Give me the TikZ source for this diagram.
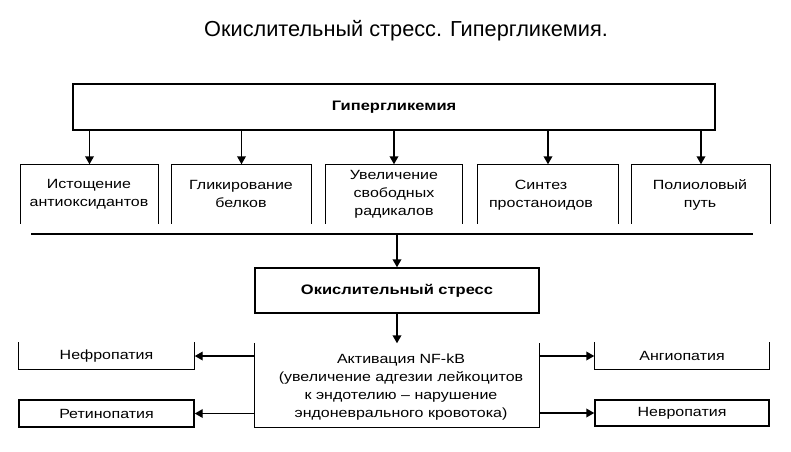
\documentclass[tikz,border=0pt]{standalone}
\usepackage{fontspec}
\setmainfont{Liberation Sans}
\newfontfamily\wf[FakeStretch=1.2]{Liberation Sans}
\usetikzlibrary{arrows.meta}
\begin{document}
\begin{tikzpicture}[x=0.75pt,y=-0.75pt,
  line width=1.1pt,
  arr/.style={-{Triangle[length=6pt,width=6.5pt]}},
  txt/.style={font=\wf\fontsize{10}{13.5}\selectfont, align=center, inner sep=0pt},
  btxt/.style={font=\wf\bfseries\fontsize{10.3}{13.5}\selectfont, align=center, inner sep=0pt},
  area/.style 2 args={minimum width=#1*0.75pt, minimum height=#2*0.75pt, inner sep=0pt}
]
\useasboundingbox (0,0) rectangle (791,451);
\node[font=\fontsize{16.3}{19}\selectfont, inner sep=0pt] (title) at (406,31) {Окислительный стресс. Гипергликемия.};

% top box
\node[draw, area={642}{46}, btxt] (top) at (394,107) {Гипергликемия};

% second row (open at bottom)
\node[area={137}{58}] (b1) at (89.5,194) {};
\node[area={139}{58}] (b2) at (241.5,194) {};
\node[area={136}{58}] (b3) at (394,194) {};
\node[area={140}{58}] (b4) at (548,194) {};
\node[area={138}{58}] (b5) at (701,194) {};
\foreach \b in {b1,b2,b3,b4,b5}{
  \draw (\b.south west) |- (\b.north east) -- (\b.south east);
  \draw[arr] (\b.north |- top.south) -- (\b.north);
}
\node[txt] (t1) at (89,194) {Истощение\\антиоксидантов};
\node[txt] (t2) at (241,194) {Гликирование\\белков};
\node[txt] (t3) at (394,194) {Увеличение\\свободных\\радикалов};
\node[txt] (t4) at (541,195) {Синтез\\простаноидов};
\node[txt] (t5) at (700,195) {Полиоловый\\путь};

% horizontal line
\coordinate (hl1) at (31,234);
\coordinate (hl2) at (753,234);
\draw (hl1) -- (hl2);

% oxidative stress
\node[draw, area={284}{45}, btxt] (ox) at (397,290.5) {Окислительный стресс};
\draw[arr] (ox.north |- hl1) -- (ox.north);

% activation box (open top)
\node[area={284}{83}] (act) at (397,385.5) {};
\draw (act.north west) |- (act.south east) -- (act.north east);
\node[txt] (actt) at (401,387) {Активация NF-kB\\(увеличение адгезии лейкоцитов\\к эндотелию – нарушение\\эндоневрального кровотока)};
\draw[arr] (ox.south) -- (act.north);

% outcome boxes
\node[area={175}{26}] (nef) at (106.5,356) {};
\draw (nef.north west) |- (nef.south east) -- (nef.north east);
\node[txt] at (nef) {Нефропатия};
\node[draw, area={175}{27}, txt] (ret) at (106.5,413.5) {Ретинопатия};
\node[area={174}{26}] (ang) at (682,356) {};
\draw (ang.north west) |- (ang.south east) -- (ang.north east);
\node[txt] at (ang) {Ангиопатия};
\node[draw, area={174}{26}, txt] (nev) at (682,413) {Невропатия};

\draw[arr] (act.west |- nef) -- (nef.east);
\draw[arr] (act.west |- ret) -- (ret.east);
\draw[arr] (act.east |- ang) -- (ang.west);
\draw[arr] (act.east |- nev) -- (nev.west);
\end{tikzpicture}
\end{document}
